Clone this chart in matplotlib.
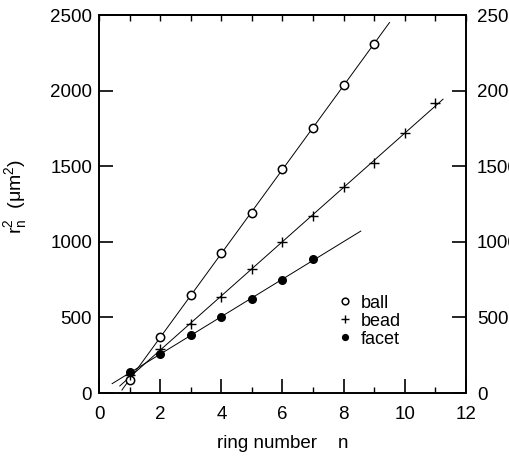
import numpy as np
import matplotlib
matplotlib.use('Agg')
import matplotlib.pyplot as plt
from matplotlib.ticker import MultipleLocator
from matplotlib.lines import Line2D
from matplotlib.transforms import ScaledTranslation

plt.rcParams['font.family'] = ['Liberation Sans', 'DejaVu Sans']
plt.rcParams['mathtext.fontset'] = 'custom'
plt.rcParams['mathtext.rm'] = 'Liberation Sans'
plt.rcParams['mathtext.it'] = 'Liberation Sans'

# ring number n and r_n^2 (um^2)
n_ball = [1, 2, 3, 4, 5, 6, 7, 8, 9]
r2_ball = [85, 372, 648, 926, 1188, 1485, 1755, 2040, 2308]

n_bead = [1, 2, 3, 4, 5, 6, 7, 8, 9, 10, 11]
r2_bead = [118, 291, 456, 632, 818, 1001, 1173, 1365, 1524, 1720, 1918]

n_facet = [1, 2, 3, 4, 5, 6, 7]
r2_facet = [136, 255, 387, 502, 620, 748, 888]

# x range of each fitted line
fit_range = {'ball': (0.75, 9.5), 'bead': (0.68, 11.25), 'facet': (0.43, 8.56)}

fig = plt.figure(figsize=(5.09, 4.57), dpi=100)
ax = fig.add_axes([0.1945, 0.140, 0.721, 0.827])

series = [
    ('ball', n_ball, r2_ball, dict(marker='o', mfc='white', mec='black', ms=6, mew=1.1)),
    ('bead', n_bead, r2_bead, dict(marker='+', color='black', ms=6.5, mew=1.0)),
    ('facet', n_facet, r2_facet, dict(marker='o', color='black', ms=6.5, mew=0)),
]

handles = []
for name, x, y, style in series:
    slope, icpt = np.polyfit(x, y, 1)
    x0, x1 = fit_range[name]
    xx = np.array([x0, x1])
    ax.plot(xx, slope * xx + icpt, color='black', lw=0.7, zorder=2)
    ax.plot(x, y, linestyle='none', zorder=3, **style)
    handles.append(Line2D([], [], linestyle='none', **dict(style, ms=style['ms'] * 0.8)))

ax.set_xlim(0, 12)
ax.set_ylim(0, 2500)

for s in ax.spines.values():
    s.set_linewidth(1.4)

ax.xaxis.set_major_locator(MultipleLocator(2))
ax.xaxis.set_minor_locator(MultipleLocator(1))
ax.yaxis.set_major_locator(MultipleLocator(500))
ax.tick_params(axis='x', which='major', direction='in', length=10, width=1.2,
               labelsize=13.5, pad=9, top=False)
ax.tick_params(axis='x', which='minor', direction='in', length=4, width=1.0, top=False)
ax.tick_params(axis='y', which='major', direction='in', length=10, width=1.2,
               labelsize=13.5, pad=5, right=True, labelright=True)

# small ticks at every ring number along the top
secx = ax.secondary_xaxis('top')
secx.xaxis.set_major_locator(MultipleLocator(1))
secx.tick_params(direction='in', length=4, width=1.0, labeltop=False)
secx.spines['top'].set_linewidth(1.4)

# right labels sit a little further out than the left ones
shift = ScaledTranslation(3 / 72, 0, fig.dpi_scale_trans)
for t in ax.yaxis.get_major_ticks():
    t.label2.set_transform(t.label2.get_transform() + shift)

ax.set_xlabel('ring number    n', fontsize=13.5, labelpad=9)
ax.set_ylabel(r'r$_n^2$  ($\mu$m$^2$)', fontsize=14)
ax.yaxis.set_label_coords(-0.19, 0.52)

ax.legend(handles, ['ball', 'bead', 'facet'], loc='center left',
          bbox_to_anchor=(0.63, 0.19), frameon=False, fontsize=13,
          handlelength=0.6, handletextpad=0.6, labelspacing=0.05, borderpad=0)

fig.savefig('out.png', dpi=100)
